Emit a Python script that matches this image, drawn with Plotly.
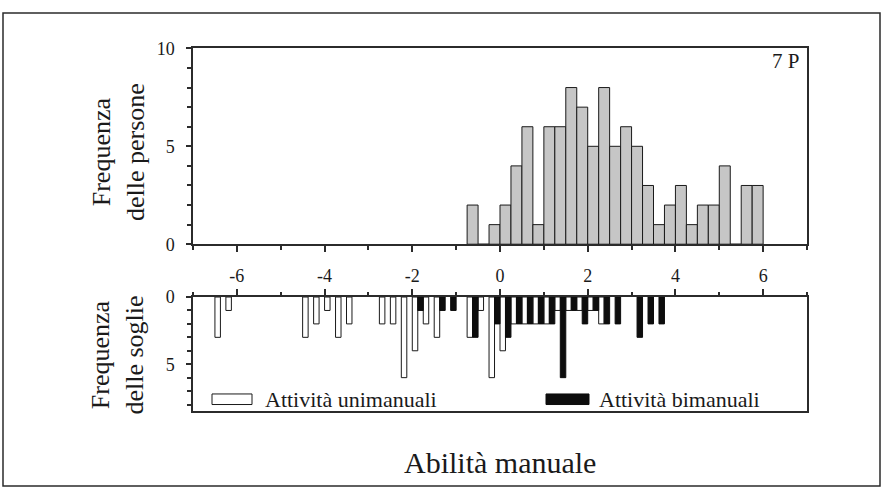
import plotly.graph_objects as go

W, H = 883, 499

# Upper panel: number of persons per 0.25-wide ability bin (left bin edges)
person_bin_left = [-0.75, -0.5, -0.25, 0.0, 0.25, 0.5, 0.75, 1.0, 1.25, 1.5, 1.75,
                   2.0, 2.25, 2.5, 2.75, 3.0, 3.25, 3.5, 3.75, 4.0, 4.25, 4.5,
                   4.75, 5.0, 5.25, 5.5, 5.75]
person_counts = [2, 0, 1, 2, 4, 6, 1, 6, 6, 8, 7,
                 5, 8, 5, 6, 5, 3, 1, 2, 3, 1, 2,
                 2, 4, 0, 3, 3]

# Lower panel: number of thresholds per bin, one-handed activities
uni_bin_left = [-6.5, -6.25, -4.5, -4.25, -4.0, -3.75, -3.5, -2.75, -2.5, -2.25,
                -2.0, -1.75, -1.5, -0.75, -0.5, -0.25, 0.0, 0.25, 0.5, 0.75,
                1.0, 1.25, 1.5, 1.75, 2.0, 2.25]
uni_counts = [3, 1, 3, 2, 1, 3, 2, 2, 2, 6,
              4, 2, 3, 3, 1, 6, 4, 2, 2, 2,
              2, 1, 1, 1, 1, 2]

# Lower panel: number of thresholds per bin, two-handed activities
bi_bin_left = [-2.0, -1.5, -1.25, -0.75, -0.25, 0.0, 0.25, 0.5, 0.75, 1.0,
               1.25, 1.5, 1.75, 2.0, 2.25, 2.5, 3.0, 3.25, 3.5]
bi_counts = [1, 1, 1, 3, 2, 3, 2, 2, 2, 2,
             6, 1, 2, 1, 2, 2, 3, 2, 2]

x_tick_vals = [-6, -4, -2, 0, 2, 4, 6]
x_tick_text = ["-6", "-4", "-2", "0", "2", "4", "6"]

FONT = "Liberation Serif"
INK = "#1a1a1a"
LINE = "#2b2b2b"
BIN = 0.25


def px_x(p):
    return p / W


def px_y(p):
    return 1 - p / H


X_DOM = [px_x(193), px_x(807)]
TOP_DOM = [px_y(244), px_y(40)]
BOT_DOM = [px_y(418), px_y(299)]

fig = go.Figure()

fig.add_trace(go.Bar(
    x=person_bin_left, y=person_counts, width=BIN, offset=0,
    marker=dict(color="#c6c6c6", line=dict(color=INK, width=1)),
    xaxis="x", yaxis="y", showlegend=False, name="Persone",
))
fig.add_trace(go.Bar(
    x=uni_bin_left, y=uni_counts, width=BIN / 2, offset=0,
    marker=dict(color="white", line=dict(color=INK, width=1)),
    xaxis="x2", yaxis="y2", showlegend=False, name="Attività unimanuali",
))
fig.add_trace(go.Bar(
    x=bi_bin_left, y=bi_counts, width=BIN / 2, offset=BIN / 2,
    marker=dict(color="#0d0d0d", line=dict(color="#0d0d0d", width=1)),
    xaxis="x2", yaxis="y2", showlegend=False, name="Attività bimanuali",
))

frame = dict(showline=True, linecolor=LINE, linewidth=1.5, mirror=True,
             showgrid=False, zeroline=False)
tickfont = dict(family=FONT, size=18, color=INK)

fig.update_layout(
    width=W, height=H,
    margin=dict(l=0, r=0, t=0, b=0),
    paper_bgcolor="white", plot_bgcolor="white",
    barmode="overlay",
    font=dict(family=FONT, color=INK),
    xaxis=dict(
        **frame, domain=X_DOM, range=[-7, 7], anchor="y", side="bottom",
        tick0=0, dtick=2, ticks="outside", ticklen=6, tickwidth=1.5, tickcolor=LINE,
        showticklabels=False,
        minor=dict(tick0=0, dtick=1, ticks="outside", ticklen=4, tickwidth=1.5, tickcolor=LINE),
    ),
    xaxis3=dict(
        overlaying="x", matches="x", anchor="y", side="bottom", range=[-7, 7],
        showline=False, showgrid=False, zeroline=False, showticklabels=False,
        tick0=0, dtick=2, ticks="inside", ticklen=6, tickwidth=1.5, tickcolor=LINE,
        minor=dict(tick0=0, dtick=1, ticks="inside", ticklen=4, tickwidth=1.5, tickcolor=LINE),
    ),
    yaxis=dict(
        **frame, domain=TOP_DOM, range=[0, 10], anchor="x",
        tick0=0, dtick=5, ticks="outside", ticklen=5, tickwidth=1.5, tickcolor=LINE,
        tickfont=tickfont, ticklabelstandoff=8,
        minor=dict(tick0=0, dtick=1, ticks="outside", ticklen=4, tickwidth=1.5, tickcolor=LINE),
    ),
    xaxis2=dict(
        **frame, domain=X_DOM, range=[-7, 7], anchor="y2", side="top", matches="x",
        tickmode="array", tickvals=x_tick_vals, ticktext=x_tick_text,
        ticks="outside", ticklen=6, tickwidth=1.5, tickcolor=LINE,
        tickfont=tickfont, ticklabelstandoff=0,
        minor=dict(tick0=0, dtick=1, ticks="outside", ticklen=3, tickwidth=1.5, tickcolor=LINE),
    ),
    xaxis4=dict(
        overlaying="x2", matches="x", anchor="y2", side="top", range=[-7, 7],
        showline=False, showgrid=False, zeroline=False, showticklabels=False,
        tickmode="array", tickvals=x_tick_vals,
        ticks="inside", ticklen=6, tickwidth=1.5, tickcolor=LINE,
        minor=dict(tick0=0, dtick=1, ticks="inside", ticklen=3, tickwidth=1.5, tickcolor=LINE),
    ),
    yaxis2=dict(
        **frame, domain=BOT_DOM, range=[8.5, 0], anchor="x2",
        tickmode="array", tickvals=[0, 5], ticktext=["0", "5"],
        ticks="outside", ticklen=5, tickwidth=1.5, tickcolor=LINE,
        tickfont=tickfont, ticklabelstandoff=8,
        minor=dict(tick0=0, dtick=1, ticks="outside", ticklen=4, tickwidth=1.5, tickcolor=LINE),
    ),
)

# Outer frame around the whole figure
fig.add_shape(type="rect", xref="paper", yref="paper",
              x0=px_x(3), x1=px_x(880), y0=px_y(496), y1=px_y(3),
              line=dict(color=LINE, width=1.5), fillcolor="rgba(0,0,0,0)", layer="above")

# Legend swatches inside the lower panel
fig.add_shape(type="rect", xref="paper", yref="paper",
              x0=px_x(212), x1=px_x(252), y0=px_y(411), y1=px_y(400),
              line=dict(color=INK, width=1), fillcolor="white")
fig.add_shape(type="rect", xref="paper", yref="paper",
              x0=px_x(546), x1=px_x(589), y0=px_y(411), y1=px_y(400),
              line=dict(color="#0d0d0d", width=1), fillcolor="#0d0d0d")

annotations = [
    dict(text="Attività unimanuali", x=px_x(263), y=px_y(406), xanchor="left", yanchor="middle",
         font=dict(family=FONT, size=22, color=INK)),
    dict(text="Attività bimanuali", x=px_x(597), y=px_y(406), xanchor="left", yanchor="middle",
         font=dict(family=FONT, size=22, color=INK)),
    dict(text="7 P", x=px_x(801), y=px_y(53), xanchor="right", yanchor="middle",
         font=dict(family=FONT, size=21, color=INK)),
    dict(text="Frequenza<br>delle persone", x=px_x(118), y=px_y(148), textangle=-90,
         xanchor="center", yanchor="middle", font=dict(family=FONT, size=26, color=INK)),
    dict(text="Frequenza<br>delle soglie", x=px_x(118), y=px_y(360), textangle=-90,
         xanchor="center", yanchor="middle", font=dict(family=FONT, size=26, color=INK)),
    dict(text="Abilità manuale", x=px_x(500), y=px_y(471), xanchor="center", yanchor="middle",
         font=dict(family=FONT, size=30, color=INK)),
]
for a in annotations:
    a.update(xref="paper", yref="paper", showarrow=False)
fig.update_layout(annotations=annotations)

fig.write_html("out.html")
